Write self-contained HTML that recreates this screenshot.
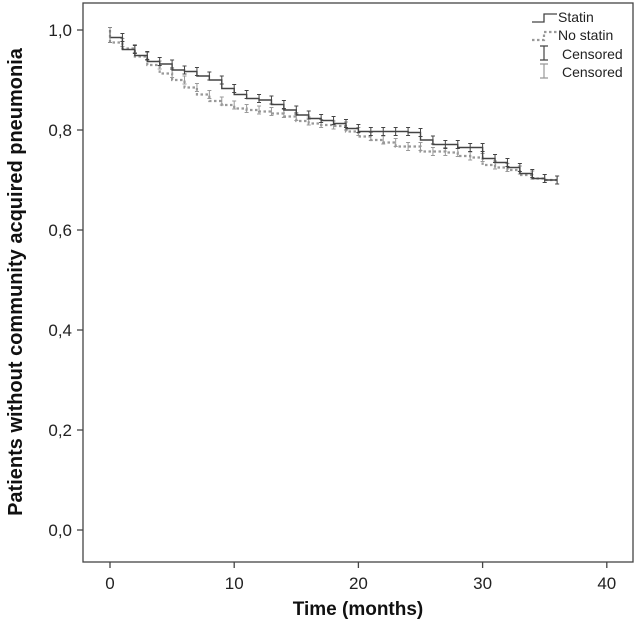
<!DOCTYPE html>
<html><head><meta charset="utf-8"><style>
html,body{margin:0;padding:0;background:#fff;}
svg{display:block;font-family:"Liberation Sans",Arial,sans-serif;}
</style></head><body>
<svg id="chart" width="636" height="629"></svg>
<script>
const months=[0,1,2,3,4,5,6,7,8,9,10,11,12,13,14,15,16,17,18,19,20,21,22,23,24,25,26,27,28,29,30,31,32,33,34,35];
const statin=[0.985,0.961,0.949,0.937,0.932,0.92,0.917,0.908,0.9,0.883,0.871,0.863,0.86,0.851,0.84,0.83,0.823,0.819,0.813,0.803,0.797,0.797,0.797,0.797,0.795,0.78,0.771,0.771,0.765,0.765,0.743,0.735,0.725,0.713,0.703,0.7];
const noStatin=[0.975,0.963,0.947,0.93,0.913,0.9,0.885,0.871,0.858,0.85,0.843,0.84,0.837,0.833,0.827,0.818,0.813,0.81,0.808,0.797,0.787,0.78,0.775,0.767,0.767,0.757,0.757,0.755,0.748,0.745,0.73,0.725,0.72,0.71,0.703,0.7];
const endMonth=36;
const xTicks=[0,10,20,30,40];
const yTicks=[0,0.2,0.4,0.6,0.8,1.0];
const yTickLabels=["0,0","0,2","0,4","0,6","0,8","1,0"];

const NS="http://www.w3.org/2000/svg";
const svg=document.getElementById('chart');
const X=v=>110+v*12.42;
const Y=v=>530-v*500;
function mk(t,a,txt){const e=document.createElementNS(NS,t);for(const k in a)e.setAttribute(k,a[k]);if(txt!=null)e.textContent=txt;svg.appendChild(e);return e;}

const frame=mk('rect',{x:83,y:3,width:550,height:559,fill:'none',stroke:'#444','stroke-width':1.3});



yTicks.forEach((v,i)=>{
  const t=mk('line',{x1:77,x2:83,y1:Y(v),y2:Y(v),stroke:'#444','stroke-width':1.3});
  
  
  const l=mk('text',{x:72,y:Y(v)+6,'text-anchor':'end','font-size':17,fill:'#222'},yTickLabels[i]);
  
  
});
xTicks.forEach(v=>{
  const t=mk('line',{x1:X(v),x2:X(v),y1:562,y2:568,stroke:'#444','stroke-width':1.3});
  
  
  const l=mk('text',{x:X(v),y:589,'text-anchor':'middle','font-size':17,fill:'#222'},String(v));
  
  
});
const xt=mk('text',{x:358,y:615,'text-anchor':'middle','font-size':19,'font-weight':'bold',fill:'#111'},'Time (months)');


const yt=mk('text',{x:0,y:0,'text-anchor':'middle','font-size':20,'font-weight':'bold',fill:'#111',transform:'translate(22,282) rotate(-90)'},'Patients without community acquired pneumonia');



function stepPath(vals){
  let d='';
  months.forEach((m,i)=>{
    const x0=X(m), x1=X(i+1<months.length?months[i+1]:endMonth), y=Y(vals[i]);
    d+=(i===0?'M'+x0+','+(Y(1)):'L'+x0+','+Y(vals[i-1]))+' L'+x0+','+y+' L'+x1+','+y+' ';
  });
  return d;
}
function censors(vals,color,name){
  months.forEach((m,i)=>{
    const x=X(i+1<months.length?months[i+1]:endMonth), y=Y(vals[i]);
    const g=mk('path',{d:`M${x-2},${y-4}H${x+2}M${x},${y-4}V${y+4}M${x-2},${y+4}H${x+2}`,stroke:color,'stroke-width':1,fill:'none'});
    
    
  });
}
const ns=mk('path',{d:stepPath(noStatin),fill:'none',stroke:'#999','stroke-width':2.2,'stroke-dasharray':'2.5,2.5'});


censors(noStatin,'#999','no-statin-censor');
const st=mk('path',{d:stepPath(statin),fill:'none',stroke:'#444','stroke-width':1.4});


censors(statin,'#444','statin-censor');
const c0=mk('path',{d:`M${X(0)-2},${Y(1.005)}H${X(0)+2}M${X(0)},${Y(1.005)}V${Y(0.975)}M${X(0)-2},${Y(0.975)}H${X(0)+2}`,stroke:'#888','stroke-width':1});



const lg=[
 {d:'M532,22H544V14H557',stroke:'#444',dash:null,w:1.3,label:'Statin',y:22},
 {d:'M532,40H544V32H557',stroke:'#999',dash:'2.5,2.5',w:2.2,label:'No statin',y:40},
 {d:'M544,46V60M540,46H548M540,60H548',stroke:'#444',dash:null,w:1.2,label:'Censored',y:59},
 {d:'M544,64V78M540,64H548M540,78H548',stroke:'#999',dash:null,w:1.2,label:'Censored',y:77}
];
lg.forEach(o=>{
  const a={d:o.d,fill:'none',stroke:o.stroke,'stroke-width':o.w};
  if(o.dash)a['stroke-dasharray']=o.dash;
  const p=mk('path',a);
  
  
  const t=mk('text',{x:o.label==='Censored'?562:558,y:o.y,'font-size':14,fill:'#222'},o.label);
  
  
});
</script>
</body></html>
